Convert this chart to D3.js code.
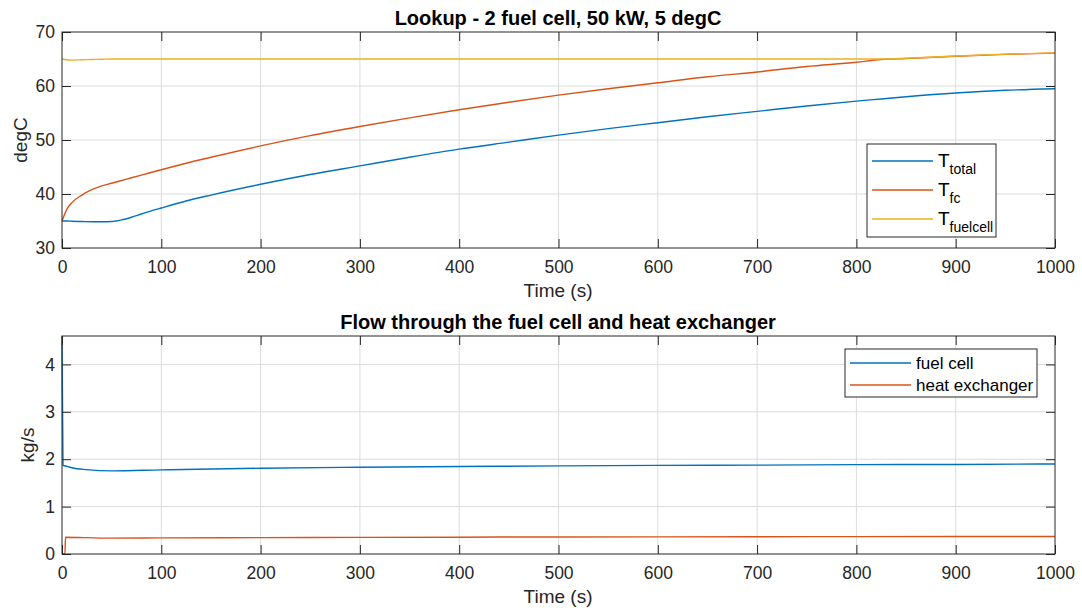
<!DOCTYPE html>
<html>
<head>
<meta charset="utf-8">
<script src="https://cdn.jsdelivr.net/npm/d3@7"></script>
<style>
  body { margin: 0; background: #fff; }
  svg { display: block; font-family: "Liberation Sans", Arial, sans-serif; }
</style>
</head>
<body>
<svg id="chart" width="1082" height="614"></svg>
<script>
// Top panel: temperatures (degC)
const timeT = [0, 5, 10, 20, 30, 40, 50, 60, 70, 80, 100, 125, 150, 200, 250, 300, 350, 400, 450, 500, 550, 600, 650, 700, 750, 800, 825, 850, 900, 950, 1000];
const tTotal = [35.0, 35.0, 34.95, 34.9, 34.85, 34.85, 34.9, 35.2, 35.7, 36.3, 37.4, 38.7, 39.8, 41.8, 43.6, 45.2, 46.8, 48.3, 49.6, 50.9, 52.1, 53.2, 54.3, 55.3, 56.3, 57.2, 57.6, 58.0, 58.7, 59.2, 59.5];
const tFc = [35.0, 37.2, 38.4, 39.8, 40.8, 41.5, 42.0, 42.5, 43.0, 43.5, 44.5, 45.7, 46.8, 48.9, 50.8, 52.5, 54.1, 55.6, 57.0, 58.3, 59.5, 60.6, 61.7, 62.6, 63.6, 64.4, 64.9, 65.1, 65.5, 65.85, 66.1];
const tFuelcell = [65.0, 64.85, 64.8, 64.85, 64.9, 64.95, 65.0, 65.0, 65.0, 65.0, 65.0, 65.0, 65.0, 65.0, 65.0, 65.0, 65.0, 65.0, 65.0, 65.0, 65.0, 65.0, 65.0, 65.0, 65.0, 65.0, 65.0, 65.15, 65.55, 65.9, 66.15];

// Bottom panel: flows (kg/s)
const timeFc = [0, 1, 5, 10, 25, 50, 100, 200, 300, 400, 500, 600, 700, 800, 900, 1000];
const flowFc = [4.6, 1.87, 1.85, 1.82, 1.78, 1.755, 1.775, 1.81, 1.83, 1.845, 1.86, 1.87, 1.875, 1.885, 1.89, 1.9];
const timeHx = [0, 3, 3.5, 25, 50, 100, 200, 300, 400, 500, 600, 700, 800, 900, 1000];
const flowHx = [0, 0, 0.355, 0.345, 0.335, 0.34, 0.345, 0.35, 0.355, 0.36, 0.362, 0.365, 0.367, 0.369, 0.37];

const xTicks = [0, 100, 200, 300, 400, 500, 600, 700, 800, 900, 1000];
const topYTicks = [30, 40, 50, 60, 70];
const botYTicks = [0, 1, 2, 3, 4];

const colors = ["#0072BD", "#D95319", "#EDB120"];

const svg = d3.select("#chart");

function drawPanel(opt) {
    const x = d3.scaleLinear().domain([0, 1000]).range([62, 1055]);
    const y = d3.scaleLinear().domain(opt.yDomain).range([opt.bottom, opt.top]);
    const g = svg.append("g");

    // grid
    g.selectAll(".vgrid")
        .data(xTicks.slice(1, -1))
        .enter()
        .append("line")
        .attr("x1", d => x(d)).attr("x2", d => x(d))
        .attr("y1", opt.top).attr("y2", opt.bottom)
        .attr("stroke", "#dcdcdc");
    g.selectAll(".hgrid")
        .data(opt.yTicks.filter(d => y(d) > opt.top + 1 && y(d) < opt.bottom - 1))
        .enter()
        .append("line")
        .attr("x1", 62).attr("x2", 1055)
        .attr("y1", d => y(d)).attr("y2", d => y(d))
        .attr("stroke", "#dcdcdc");

    // lines
    opt.series.forEach((s, i) => {
        const line = d3.line()
            .curve(d3.curveMonotoneX)
            .x((d, j) => x(s.t[j]))
            .y(d => y(d));
        g.append("path")
            .datum(s.v)
            .attr("fill", "none")
            .attr("stroke", colors[i])
            .attr("stroke-width", 1.4)
            .attr("d", line);
    });

    // axes (ticks inside, box)
    const tickLen = 9;
    const fmt = d3.format("d");
    g.append("g")
        .attr("transform", `translate(0,${opt.bottom})`)
        .call(d3.axisBottom(x).tickValues(xTicks).tickFormat(fmt).tickSizeInner(-tickLen).tickSizeOuter(0).tickPadding(13))
        .call(a => a.select(".domain").remove());
    g.append("g")
        .attr("transform", `translate(0,${opt.top})`)
        .call(d3.axisTop(x).tickValues(xTicks).tickSizeInner(-tickLen).tickSizeOuter(0).tickFormat(""))
        .call(a => a.select(".domain").remove());
    g.append("g")
        .attr("transform", `translate(62,0)`)
        .call(d3.axisLeft(y).tickValues(opt.yTicks).tickFormat(fmt).tickSizeInner(-tickLen).tickSizeOuter(0).tickPadding(7))
        .call(a => a.select(".domain").remove());
    g.append("g")
        .attr("transform", `translate(1055,0)`)
        .call(d3.axisRight(y).tickValues(opt.yTicks).tickSizeInner(-tickLen).tickSizeOuter(0).tickFormat(""))
        .call(a => a.select(".domain").remove());

    g.selectAll(".tick line").attr("stroke", "#262626");
    g.selectAll(".tick text")
        .attr("fill", "#262626")
        .style("font-size", "17.5px")
        .style("font-family", "'Liberation Sans', Arial, sans-serif");

    g.append("rect")
        .attr("x", 62).attr("y", opt.top)
        .attr("width", 1055 - 62).attr("height", opt.bottom - opt.top)
        .attr("fill", "none")
        .attr("stroke", "#262626")
        .attr("stroke-width", 1);

    // title and labels
    g.append("text")
        .attr("x", 558).attr("y", opt.top - 7)
        .attr("text-anchor", "middle")
        .attr("font-weight", "bold")
        .attr("font-size", "20px")
        .attr("fill", "#000")
        .text(opt.title);
    g.append("text")
        .attr("x", 558).attr("y", opt.bottom + 49)
        .attr("text-anchor", "middle")
        .attr("font-size", "19px")
        .attr("fill", "#262626")
        .text("Time (s)");
    g.append("text")
        .attr("transform", "rotate(-90)")
        .attr("x", -(opt.top + opt.bottom) / 2)
        .attr("y", opt.ylabelX)
        .attr("text-anchor", "middle")
        .attr("font-size", "19px")
        .attr("fill", "#262626")
        .text(opt.ylabel);

    // legend
    const L = opt.legend;
    g.append("rect")
        .attr("x", L.x).attr("y", L.y)
        .attr("width", L.w).attr("height", L.h)
        .attr("fill", "#fff")
        .attr("stroke", "#262626");
    L.items.forEach((item, i) => {
        const cy = L.y + L.first + i * L.step;
        g.append("line")
            .attr("x1", L.x + 5).attr("x2", L.x + L.lineW)
            .attr("y1", cy).attr("y2", cy)
            .attr("stroke", colors[i])
            .attr("stroke-width", 1.4);
        const t = g.append("text")
            .attr("x", L.x + L.lineW + 5)
            .attr("y", cy + 6)
            .attr("font-size", L.fs)
            .attr("fill", "#000");
        t.append("tspan").text(item.main);
        if (item.sub) {
            t.append("tspan")
                .attr("dy", 7)
                .attr("font-size", "14px")
                .text(item.sub);
        }
    });
}

drawPanel({
    top: 32, bottom: 248,
    yDomain: [30, 70], yTicks: topYTicks,
    title: "Lookup - 2 fuel cell, 50 kW, 5 degC",
    ylabel: "degC", ylabelX: 27,
    series: [
        { t: timeT, v: tTotal },
        { t: timeT, v: tFc },
        { t: timeT, v: tFuelcell }
    ],
    legend: {
        x: 867, y: 144, w: 129, h: 93, first: 17, step: 29, lineW: 66, fs: "19px",
        items: [
            { main: "T", sub: "total" },
            { main: "T", sub: "fc" },
            { main: "T", sub: "fuelcell" }
        ]
    }
});

drawPanel({
    top: 336, bottom: 554,
    yDomain: [0, 4.6], yTicks: botYTicks,
    title: "Flow through the fuel cell and heat exchanger",
    ylabel: "kg/s", ylabelX: 34,
    series: [
        { t: timeFc, v: flowFc },
        { t: timeHx, v: flowHx }
    ],
    legend: {
        x: 845, y: 349, w: 192, h: 48, first: 14, step: 22, lineW: 66, fs: "17px",
        items: [
            { main: "fuel cell" },
            { main: "heat exchanger" }
        ]
    }
});
</script>
</body>
</html>
